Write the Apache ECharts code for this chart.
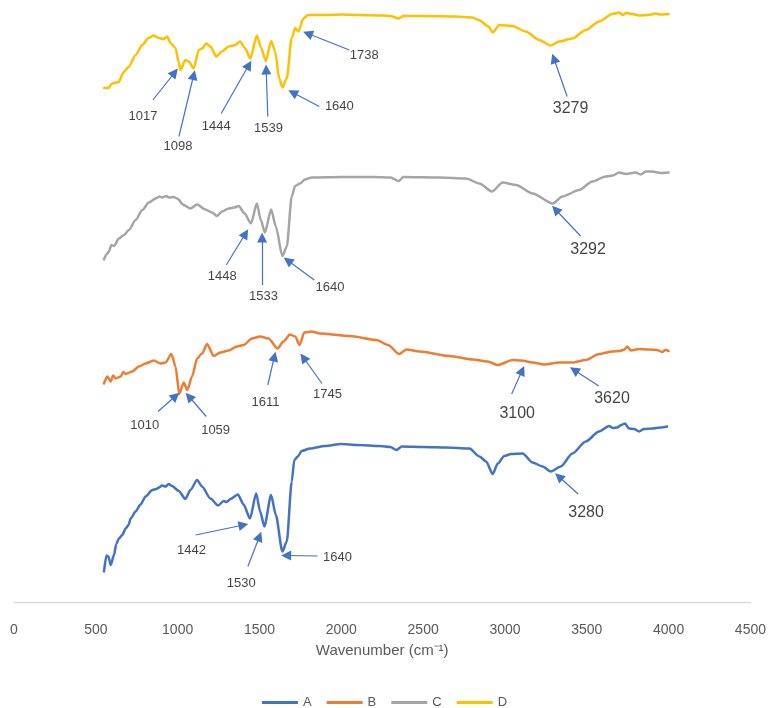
<!DOCTYPE html>
<html>
<head>
<meta charset="utf-8">
<title>FTIR spectra A–D</title>
<script src="https://cdn.jsdelivr.net/npm/echarts@6/dist/echarts.min.js"></script>
<style>
  html, body { margin: 0; padding: 0; background: #ffffff; }
  #chart { width: 769px; height: 708px; }
</style>
</head>
<body>
<div id="chart"></div>
<script>
// Wavenumber axis ticks (cm-1)
const xTicks = { min: 0, max: 4500, step: 500 };

// Stacked transmittance traces (offset for display), [wavenumber, value]
const spectrumA = [
  [550, 6.1], [565, 9.3], [577, 9.1], [591, 7.4], [611, 9.4], [625, 11.6], [641, 12.7], [662, 13.4],
  [682, 14.7], [700, 15.4], [713, 16.7], [743, 18.1], [773, 19.5], [804, 21.1], [845, 22.4],
  [870, 22.6], [885, 22.9], [905, 23.3], [926, 23.1], [946, 23.6], [966, 23.2], [1007, 22.2],
  [1047, 20.6], [1078, 22.4], [1119, 24.4], [1149, 23.1], [1200, 20.7], [1247, 19.3],
  [1281, 20.2], [1300, 20.0], [1322, 20.6], [1368, 21.5], [1403, 19.5], [1442, 16.7],
  [1480, 21.7], [1504, 18.1], [1530, 15.1], [1571, 21.4], [1600, 17.4], [1640, 10.1],
  [1667, 12.1], [1697, 24.1], [1713, 28.4], [1734, 29.1], [1758, 30.2], [1809, 30.7],
  [1900, 31.2], [2000, 31.6], [2100, 31.4], [2235, 31.2], [2300, 31.0], [2337, 30.4],
  [2370, 31.1], [2500, 31.0], [2641, 30.9], [2783, 30.7], [2844, 29.1], [2885, 28.1],
  [2925, 25.6], [2956, 27.7], [2996, 29.2], [3037, 29.6], [3108, 29.7], [3169, 27.9],
  [3230, 27.1], [3280, 26.1], [3341, 27.1], [3412, 29.7], [3494, 32.1], [3575, 34.1],
  [3636, 35.2], [3660, 34.8], [3686, 34.9], [3710, 35.4], [3733, 35.7], [3758, 34.7],
  [3790, 34.6], [3819, 34.1], [3850, 34.6], [3900, 34.7], [3950, 34.9], [3991, 35.1]
];

const spectrumB = [
  [550, 43.7], [570, 45.1], [591, 44.1], [606, 45.3], [621, 44.7], [652, 45.1], [668, 46.0],
  [682, 45.6], [723, 46.1], [763, 47.1], [804, 47.7], [855, 48.3], [895, 47.7], [926, 47.9],
  [962, 49.6], [987, 47.1], [1010, 41.6], [1037, 43.9], [1059, 42.4], [1088, 45.1],
  [1119, 48.7], [1149, 49.7], [1180, 51.6], [1220, 49.2], [1261, 49.9], [1312, 50.3],
  [1362, 51.1], [1403, 51.4], [1454, 52.7], [1504, 53.1], [1555, 52.7], [1611, 50.7],
  [1646, 52.1], [1687, 53.5], [1718, 53.1], [1745, 51.4], [1774, 53.9], [1819, 54.1],
  [1870, 53.7], [2052, 53.2], [2215, 52.4], [2286, 51.4], [2353, 49.6], [2398, 50.5],
  [2479, 50.1], [2661, 49.2], [2803, 48.5], [2895, 48.1], [2956, 47.4], [3047, 48.4],
  [3100, 48.3], [3169, 47.9], [3240, 47.5], [3331, 47.9], [3412, 47.9], [3494, 48.4],
  [3575, 49.6], [3656, 50.1], [3700, 50.2], [3730, 50.5], [3747, 51.1], [3770, 50.3],
  [3820, 50.6], [3879, 50.5], [3930, 50.4], [3960, 50.0], [3981, 50.4], [4000, 50.2]
];

const spectrumC = [
  [550, 68.5], [565, 69.5], [580, 70.1], [595, 71.4], [611, 71.2], [641, 72.7], [672, 73.4],
  [702, 74.4], [743, 76.4], [784, 78.4], [824, 79.9], [865, 80.7], [890, 81.1], [906, 80.9],
  [930, 81.2], [946, 80.9], [975, 81.0], [997, 80.7], [1037, 79.4], [1078, 78.7], [1119, 79.5],
  [1169, 78.5], [1210, 77.9], [1240, 77.2], [1271, 78.1], [1312, 78.7], [1345, 78.9],
  [1373, 79.2], [1409, 77.7], [1448, 75.7], [1484, 79.7], [1508, 76.4], [1533, 73.9],
  [1571, 78.5], [1600, 75.1], [1640, 69.2], [1667, 71.1], [1697, 81.1], [1718, 83.2],
  [1748, 83.7], [1778, 84.5], [1819, 84.9], [2000, 85.0], [2200, 85.0], [2300, 84.9],
  [2351, 84.2], [2380, 85.0], [2600, 84.9], [2763, 84.7], [2844, 83.7], [2921, 82.1],
  [2986, 83.9], [3068, 83.4], [3169, 81.7], [3292, 79.7], [3351, 81.1], [3453, 82.4],
  [3534, 84.1], [3616, 85.1], [3660, 85.3], [3697, 85.9], [3740, 85.6], [3798, 85.9],
  [3830, 85.5], [3860, 86.1], [3900, 86.1], [3950, 85.8], [4000, 85.9]
];

const spectrumD = [
  [550, 102.8], [579, 102.8], [595, 103.6], [610, 103.8], [640, 104.0], [670, 106.0],
  [700, 107.0], [743, 109.4], [784, 111.4], [822, 112.8], [853, 113.3], [884, 112.8],
  [914, 112.6], [936, 113.1], [956, 111.8], [987, 110.8], [1005, 108.1], [1017, 106.4],
  [1047, 108.4], [1068, 108.1], [1098, 106.7], [1129, 110.4], [1149, 110.7], [1175, 111.7],
  [1200, 111.1], [1236, 109.1], [1271, 110.1], [1312, 111.1], [1352, 111.4], [1382, 112.1],
  [1413, 110.7], [1444, 108.7], [1484, 113.3], [1510, 110.8], [1539, 108.2], [1571, 112.2],
  [1596, 110.1], [1620, 104.8], [1640, 102.9], [1667, 104.8], [1697, 112.8], [1718, 114.8],
  [1738, 114.1], [1768, 116.7], [1797, 117.4], [1900, 117.4], [2000, 117.5], [2100, 117.4],
  [2250, 117.3], [2300, 117.2], [2350, 116.7], [2380, 117.2], [2500, 117.2], [2700, 117.1],
  [2800, 116.9], [2840, 116.4], [2900, 115.1], [2925, 113.9], [2966, 115.4], [3045, 115.2],
  [3128, 114.1], [3210, 112.4], [3279, 111.3], [3331, 112.1], [3412, 112.7], [3494, 114.4],
  [3575, 116.1], [3656, 117.6], [3700, 117.9], [3720, 117.4], [3740, 117.8], [3778, 117.6],
  [3820, 117.3], [3879, 117.4], [3920, 117.7], [3950, 117.5], [4000, 117.6]
];

// Peak annotations: text, label anchor, arrow tail, arrow tip
const peakText = [
  '1017', '1098', '1444', '1539', '1640', '1738', '3279',
  '1448', '1533', '1640', '3292',
  '1010', '1059', '1611', '1745', '3100', '3620',
  '1442', '1530', '1640', '3280'
];
const peakLabelAt = [
  [788, 97.1], [1002, 91.1], [1236, 95.2], [1555, 94.7], [1988, 99.1], [2140, 109.4], [3401, 98.7],
  [1273, 65.1], [1524, 61.1], [1931, 62.9], [3508, 70.4],
  [799, 35.4], [1232, 34.3], [1537, 39.9], [1916, 41.6], [3075, 37.6], [3654, 40.6],
  [1084, 10.3], [1388, 3.7], [1977, 8.9], [3496, 17.9]
];
const arrowFrom = [
  [849, 100.4], [1008, 93.1], [1266, 97.7], [1551, 97.1], [1866, 99.1], [2049, 110.4], [3380, 101.1],
  [1297, 67.4], [1516, 63.4], [1835, 64.4], [3462, 73.2],
  [880, 38.1], [1175, 37.1], [1551, 43.4], [1882, 43.7], [3041, 41.6], [3573, 43.2],
  [1110, 13.4], [1429, 7.1], [1855, 9.2], [3447, 21.6]
];
const arrowTo = [
  [982, 105.9], [1098, 105.4], [1435, 107.4], [1541, 106.5], [1703, 101.9], [1795, 113.7], [3299, 108.7],
  [1415, 73.7], [1516, 72.9], [1673, 68.3], [3309, 78.5],
  [988, 41.2], [1069, 41.1], [1591, 49.1], [1768, 48.9], [3105, 46.3], [3423, 46.4],
  [1402, 15.4], [1500, 13.1], [1663, 9.3], [3329, 25.1]
];

const seriesNames = ['A', 'B', 'C', 'D'];
const seriesData = [spectrumA, spectrumB, spectrumC, spectrumD];
const seriesColors = ['#4472C4', '#ED7D31', '#A5A5A5', '#FFC000'];
const arrowColor = '#4472C4';
const fontStack = 'Liberation Sans, Arial, sans-serif';

const chart = echarts.init(document.getElementById('chart'), null, { renderer: 'canvas' });

const spectraSeries = seriesNames.map((name, i) => ({
  name: name,
  type: 'line',
  data: seriesData[i],
  showSymbol: false,
  symbol: 'none',
  smooth: 0.25,
  smoothMonotone: 'x',
  lineStyle: { color: seriesColors[i], width: 2.5, join: 'round', cap: 'round' },
  itemStyle: { color: seriesColors[i] },
  silent: true,
  z: 2
}));

const arrowSeries = {
  type: 'lines',
  coordinateSystem: 'cartesian2d',
  silent: true,
  symbol: ['none', 'triangle'],
  symbolSize: [9, 10],
  lineStyle: { color: arrowColor, width: 1.2, opacity: 1, curveness: 0 },
  data: arrowFrom.map((p, i) => ({ coords: [p, arrowTo[i]] })),
  z: 3
};

// High-wavenumber bands are labelled in a larger font
const labelSeries = {
  type: 'scatter',
  silent: true,
  symbolSize: 0,
  data: peakLabelAt.map((p, i) => ({
    value: [p[0], p[1]],
    label: {
      show: true,
      position: 'inside',
      formatter: peakText[i],
      color: '#111111',
      fontFamily: fontStack,
      fontSize: Number(peakText[i]) > 3000 ? 16 : 13
    }
  })),
  z: 4
};

chart.setOption({
  animation: false,
  backgroundColor: '#ffffff',
  grid: { left: 14, right: 17, top: 2, bottom: 106, containLabel: false },
  legend: {
    data: seriesNames,
    left: 'center',
    top: 691,
    icon: 'rect',
    itemWidth: 36,
    itemHeight: 3,
    itemGap: 15,
    textStyle: { color: '#595959', fontSize: 13, fontFamily: fontStack }
  },
  xAxis: {
    type: 'value',
    min: xTicks.min,
    max: xTicks.max,
    interval: xTicks.step,
    name: 'Wavenumber (cm⁻¹)',
    nameLocation: 'middle',
    nameGap: 41,
    nameTextStyle: { color: '#595959', fontSize: 15, fontFamily: fontStack },
    axisLine: { show: true, lineStyle: { color: '#D9D9D9', width: 1.3 } },
    axisTick: { show: false },
    splitLine: { show: false },
    axisLabel: {
      color: '#595959',
      fontSize: 14,
      margin: 21,
      fontFamily: fontStack,
      formatter: (v) => String(v)
    }
  },
  yAxis: {
    type: 'value',
    min: 0,
    max: 120,
    show: false,
    splitLine: { show: false }
  },
  series: [...spectraSeries, arrowSeries, labelSeries]
});
</script>
</body>
</html>
